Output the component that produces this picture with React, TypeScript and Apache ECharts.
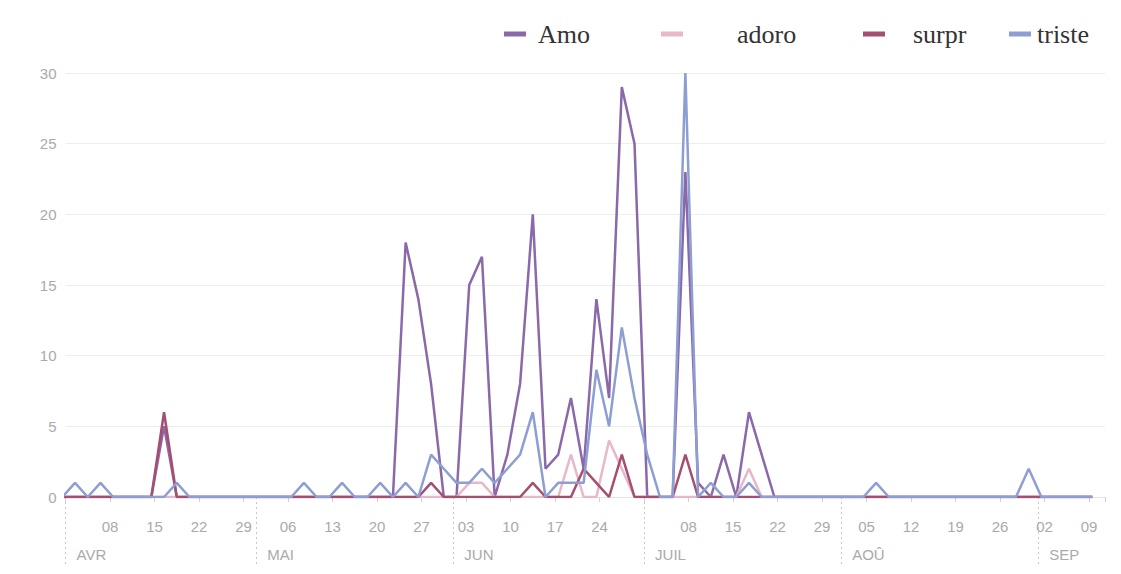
import React, { useEffect, useRef } from 'react';
import * as echarts from 'echarts';

// x positions: one point every 2 days, in days counted from 1 April
const FIRST_POINT_DAY = -0.5;
const POINT_STEP_DAYS = 2;
const AXIS_START_UTC = Date.UTC(2019, 3, 1);
const X_MAX = 163.5;
const X_INTERVAL = 7;

const SERIES_NAMES = ['Amo', 'adoro', 'surpr', 'triste'];
const SERIES_COLORS = ['#8a68aa', '#e9b7ca', '#a44e70', '#8d9ed3'];

const amoValues = [
  0, 0, 0, 0, 0, 0, 0, 0, 5, 0,
  0, 0, 0, 0, 0, 0, 0, 0, 0, 0,
  0, 0, 0, 0, 0, 0, 0, 18, 14, 8,
  0, 0, 15, 17, 0, 3, 8, 20, 2, 3,
  7, 2, 14, 7, 29, 25, 0, 0, 0, 23,
  1, 0, 3, 0, 6, 3, 0, 0, 0, 0,
  0, 0, 0, 0, 0, 0, 0, 0, 0, 0,
  0, 0, 0, 0, 0, 0, 0, 0, 0, 0,
  0, 0,
];

const adoroValues = [
  0, 0, 0, 0, 0, 0, 0, 0, 0, 0,
  0, 0, 0, 0, 0, 0, 0, 0, 0, 0,
  0, 0, 0, 0, 0, 0, 0, 0, 0, 0,
  0, 0, 1, 1, 0, 0, 0, 0, 0, 0,
  3, 0, 0, 4, 2, 0, 0, 0, 0, 0,
  0, 0, 0, 0, 2, 0, 0, 0, 0, 0,
  0, 0, 0, 0, 0, 0, 0, 0, 0, 0,
  0, 0, 0, 0, 0, 0, 0, 0, 0, 0,
  0, 0,
];

const surprValues = [
  0, 0, 0, 0, 0, 0, 0, 0, 6, 0,
  0, 0, 0, 0, 0, 0, 0, 0, 0, 0,
  0, 0, 0, 0, 0, 0, 0, 0, 0, 1,
  0, 0, 0, 0, 0, 0, 0, 1, 0, 0,
  0, 2, 1, 0, 3, 0, 0, 0, 0, 3,
  0, 0, 0, 0, 0, 0, 0, 0, 0, 0,
  0, 0, 0, 0, 0, 0, 0, 0, 0, 0,
  0, 0, 0, 0, 0, 0, 0, 0, 0, 0,
  0, 0,
];

const tristeValues = [
  0, 1, 0, 1, 0, 0, 0, 0, 0, 1,
  0, 0, 0, 0, 0, 0, 0, 0, 0, 1,
  0, 0, 1, 0, 0, 1, 0, 1, 0, 3,
  2, 1, 1, 2, 1, 2, 3, 6, 0, 1,
  1, 1, 9, 5, 12, 7, 3, 0, 0, 30,
  0, 1, 0, 0, 1, 0, 0, 0, 0, 0,
  0, 0, 0, 0, 1, 0, 0, 0, 0, 0,
  0, 0, 0, 0, 0, 0, 2, 0, 0, 0,
  0, 0,
];

const MONTH_START_DAYS = [0, 30, 61, 91, 122, 153];
const MONTH_LABELS = ['AVR', 'MAI', 'JUN', 'JUIL', 'AOÛ', 'SEP'];

const Y_MIN = 0;
const Y_MAX = 30;
const Y_INTERVAL = 5;

// legend layout: [left of icon, padding between icon and text]
const LEGEND_LEFT = [504, 661, 863, 1009];
const LEGEND_TEXT_PAD = [7, 49, 23, 1];

const SANS = "'Liberation Sans', Arial, sans-serif";
const SERIF = "'Liberation Serif', 'Times New Roman', serif";

function dayLabel(value: number): string {
  if (Math.abs(value % X_INTERVAL) > 1e-9) return '';
  const d = new Date(AXIS_START_UTC + value * 86400000);
  const day = d.getUTCDate();
  if (day === 1) return '';
  return day < 10 ? '0' + day : String(day);
}

const VALUES = [amoValues, adoroValues, surprValues, tristeValues];

export default function App() {
  const ref = useRef<HTMLDivElement>(null);

  useEffect(() => {
    if (!ref.current) return;
    const chart = echarts.init(ref.current, undefined, { renderer: 'svg' });

    const series = SERIES_NAMES.map((name, si) => ({
      name,
      type: 'line',
      xAxisIndex: 0,
      yAxisIndex: 0,
      showSymbol: false,
      symbol: 'none',
      clip: true,
      silent: true,
      lineStyle: { color: SERIES_COLORS[si], width: 2.5 },
      itemStyle: { color: SERIES_COLORS[si] },
      emphasis: { disabled: true },
      data: VALUES[si].map((v, i) => [FIRST_POINT_DAY + POINT_STEP_DAYS * i, v]),
    }));

    const legends = SERIES_NAMES.map((name, i) => ({
      data: [name],
      left: LEGEND_LEFT[i],
      top: 21,
      padding: 0,
      icon: 'rect',
      itemWidth: 22,
      itemHeight: 5,
      selectedMode: false,
      textStyle: {
        fontFamily: SERIF,
        fontSize: 26,
        color: '#333',
        padding: [0, 0, 0, LEGEND_TEXT_PAD[i]],
      },
    }));

    chart.setOption({
      animation: false,
      backgroundColor: '#ffffff',
      legend: legends,
      grid: {
        left: 65.5,
        right: 16,
        top: 73,
        bottom: 77,
        containLabel: false,
        outerBoundsMode: 'none',
      },
      xAxis: [
        {
          type: 'value',
          position: 'bottom',
          min: 0,
          max: X_MAX,
          interval: X_INTERVAL,
          axisLine: { show: true, lineStyle: { color: '#e4e4e4' } },
          axisTick: { show: true, length: 5, lineStyle: { color: '#d0d0d0' } },
          axisLabel: {
            formatter: (v: number) => dayLabel(v),
            color: '#aaa',
            fontSize: 15,
            fontFamily: SANS,
            margin: 22,
            showMinLabel: true,
            showMaxLabel: true,
          },
          splitLine: { show: false },
        },
        {
          type: 'value',
          position: 'bottom',
          offset: 0,
          min: 0,
          max: X_MAX,
          axisLine: { show: false },
          axisTick: {
            show: true,
            customValues: MONTH_START_DAYS,
            length: 70,
            lineStyle: { color: '#c8c8c8', type: [2, 3], width: 1 },
          },
          axisLabel: {
            show: true,
            customValues: MONTH_START_DAYS,
            formatter: (v: number) => {
              const idx = MONTH_START_DAYS.indexOf(Math.round(v));
              return idx >= 0 ? MONTH_LABELS[idx] : '';
            },
            align: 'left',
            padding: [0, 0, 0, 11],
            margin: 50,
            color: '#aaa',
            fontSize: 15,
            fontFamily: SANS,
          },
          splitLine: { show: false },
        },
      ],
      yAxis: {
        type: 'value',
        min: Y_MIN,
        max: Y_MAX,
        interval: Y_INTERVAL,
        axisLine: { show: false },
        axisTick: { show: false },
        axisLabel: { color: '#aaa', fontSize: 15, fontFamily: SANS, margin: 9 },
        splitLine: { show: true, lineStyle: { color: '#eeeeee', width: 1 } },
      },
      series,
    });

    return () => {
      chart.dispose();
    };
  }, []);

  return (
    <div
      ref={ref}
      style={{ position: 'fixed', left: 0, top: 0, width: 1121, height: 574, background: '#fff' }}
    />
  );
}
